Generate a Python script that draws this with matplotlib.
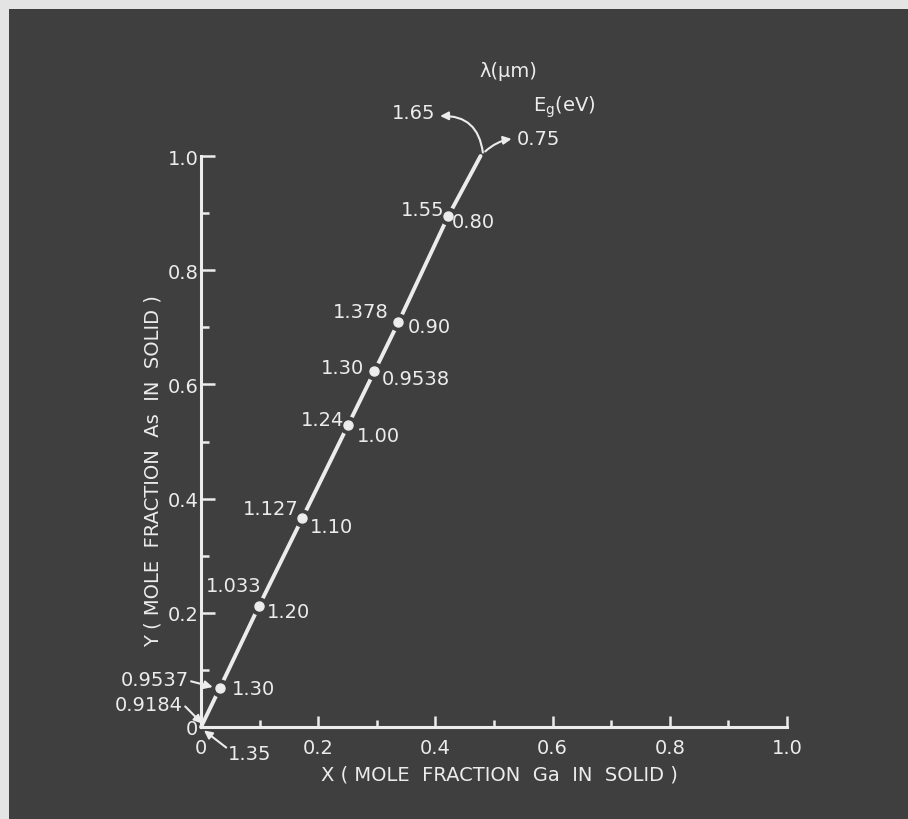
"""InGaAsP lattice-matched to InP: As vs Ga mole fraction, with wavelength and bandgap labels."""
import matplotlib; matplotlib.use("Agg")
import matplotlib.pyplot as plt
from matplotlib.patches import Rectangle

BG = "#3f3f3f"
FG = "#ececec"
FS = 14
plt.rcParams["font.family"] = ["DejaVu Sans"]

# composition points along the lattice-matched line
x_ga = [0.0, 0.032, 0.099, 0.173, 0.251, 0.296, 0.337, 0.422, 0.477]
y_as = [0.0, 0.068, 0.212, 0.366, 0.529, 0.623, 0.709, 0.895, 1.0]
wavelength = ["0.9184", "0.9537", "1.033", "1.127", "1.24", "1.30", "1.378", "1.55", "1.65"]
energy = ["1.35", "1.30", "1.20", "1.10", "1.00", "0.9538", "0.90", "0.80", "0.75"]

# label anchors (data coords) for the interior points: wavelength left, energy right
wl_pos = [None, None, (0.103, 0.247), (0.166, 0.382), (0.244, 0.538),
          (0.278, 0.629), (0.321, 0.727), (0.415, 0.907), None]
eg_pos = [None, (0.053, 0.068), (0.113, 0.203), (0.186, 0.352), (0.266, 0.511),
          (0.309, 0.611), (0.353, 0.702), (0.428, 0.886), None]

xticks = [0, 0.2, 0.4, 0.6, 0.8, 1.0]
xticklabels = ["0", "0.2", "0.4", "0.6", "0.8", "1.0"]
yticks = [0, 0.2, 0.4, 0.6, 0.8, 1.0]
yticklabels = ["0", "0.2", "0.4", "0.6", "0.8", "1.0"]

fig = plt.figure(figsize=(9.08, 8.2), dpi=100)
fig.patch.set_facecolor(BG)
# light strips along the top and left edges
fig.add_artist(Rectangle((0, 0.988), 1, 0.012, transform=fig.transFigure, color="#e4e4e4", lw=0))
fig.add_artist(Rectangle((0, 0), 0.0099, 1, transform=fig.transFigure, color="#e4e4e4", lw=0))

ax = fig.add_axes([0.2214, 0.1122, 0.6453, 0.6963])
ax.set_facecolor(BG)
ax.set_xlim(0, 1); ax.set_ylim(0, 1)
for s in ["top", "right"]:
    ax.spines[s].set_visible(False)
for s in ["left", "bottom"]:
    ax.spines[s].set_color(FG); ax.spines[s].set_linewidth(2.2)

ax.set_xticks(xticks, xticklabels)
ax.set_yticks(yticks, yticklabels)
ax.set_xticks([0.1, 0.3, 0.5, 0.7, 0.9], minor=True)
ax.set_yticks([0.1, 0.3, 0.5, 0.7, 0.9], minor=True)
ax.tick_params(axis="both", which="both", direction="in", color=FG, width=1.8,
               labelcolor=FG, labelsize=FS)
ax.tick_params(axis="x", which="major", length=8, pad=8)
ax.tick_params(axis="x", which="minor", length=5)
ax.tick_params(axis="y", which="major", length=10, pad=2)
ax.tick_params(axis="y", which="minor", length=6)

ax.set_xlabel("X ( MOLE  FRACTION  Ga  IN  SOLID )", color=FG, fontsize=FS)
ax.xaxis.set_label_coords(0.51, -0.066)
ax.set_ylabel("Y ( MOLE  FRACTION  As  IN  SOLID )", color=FG, fontsize=FS)
ax.yaxis.set_label_coords(-0.066, 0.45)

ax.plot(x_ga, y_as, color=FG, lw=2.8, solid_capstyle="round", clip_on=False)
ax.plot(x_ga[1:-1], y_as[1:-1], "o", ms=12, color=BG, clip_on=False)
ax.plot(x_ga[1:-1], y_as[1:-1], "o", ms=6.5, color=FG, clip_on=False)

for i in range(len(x_ga)):
    if wl_pos[i] is not None:
        ax.text(*wl_pos[i], wavelength[i], ha="right", va="center", color=FG, fontsize=FS)
    if eg_pos[i] is not None:
        ax.text(*eg_pos[i], energy[i], ha="left", va="center", color=FG, fontsize=FS)

arrow = dict(arrowstyle="-|>", color=FG, lw=1.5, mutation_scale=12, shrinkA=0, shrinkB=0)

# end point (Y = 1): curved arrows out to both labels
ax.text(0.362, 1.077, wavelength[-1], ha="center", va="center", color=FG, fontsize=FS)
ax.text(0.539, 1.030, energy[-1], ha="left", va="center", color=FG, fontsize=FS)
ax.annotate("", xy=(0.408, 1.070), xytext=(x_ga[-1] + 0.004, y_as[-1] + 0.006),
            arrowprops=dict(arrow, connectionstyle="arc3,rad=0.45"), annotation_clip=False)
ax.annotate("", xy=(0.530, 1.030), xytext=(x_ga[-1] + 0.008, y_as[-1] + 0.008),
            arrowprops=dict(arrow, connectionstyle="arc3,rad=-0.15"), annotation_clip=False)
ax.text(0.524, 1.149, "λ(μm)", ha="center", va="center", color=FG, fontsize=FS)
ax.text(0.567, 1.088, r"E$_{\mathrm{g}}$(eV)", ha="left", va="center", color=FG, fontsize=FS)

# near the origin: arrows from the side labels
ax.text(-0.021, 0.084, wavelength[1], ha="right", va="center", color=FG, fontsize=FS)
ax.annotate("", xy=(x_ga[1] - 0.012, y_as[1] + 0.002), xytext=(-0.017, 0.080),
            arrowprops=arrow, annotation_clip=False)
ax.text(-0.031, 0.040, wavelength[0], ha="right", va="center", color=FG, fontsize=FS)
ax.annotate("", xy=(x_ga[0] + 0.002, y_as[0] + 0.006), xytext=(-0.027, 0.036),
            arrowprops=arrow, annotation_clip=False)
ax.text(0.046, -0.046, energy[0], ha="left", va="center", color=FG, fontsize=FS)
ax.annotate("", xy=(x_ga[0] + 0.005, y_as[0] - 0.006), xytext=(0.043, -0.036),
            arrowprops=arrow, annotation_clip=False)

fig.savefig("out.png", dpi=100, facecolor=BG)
plt.close(fig)
